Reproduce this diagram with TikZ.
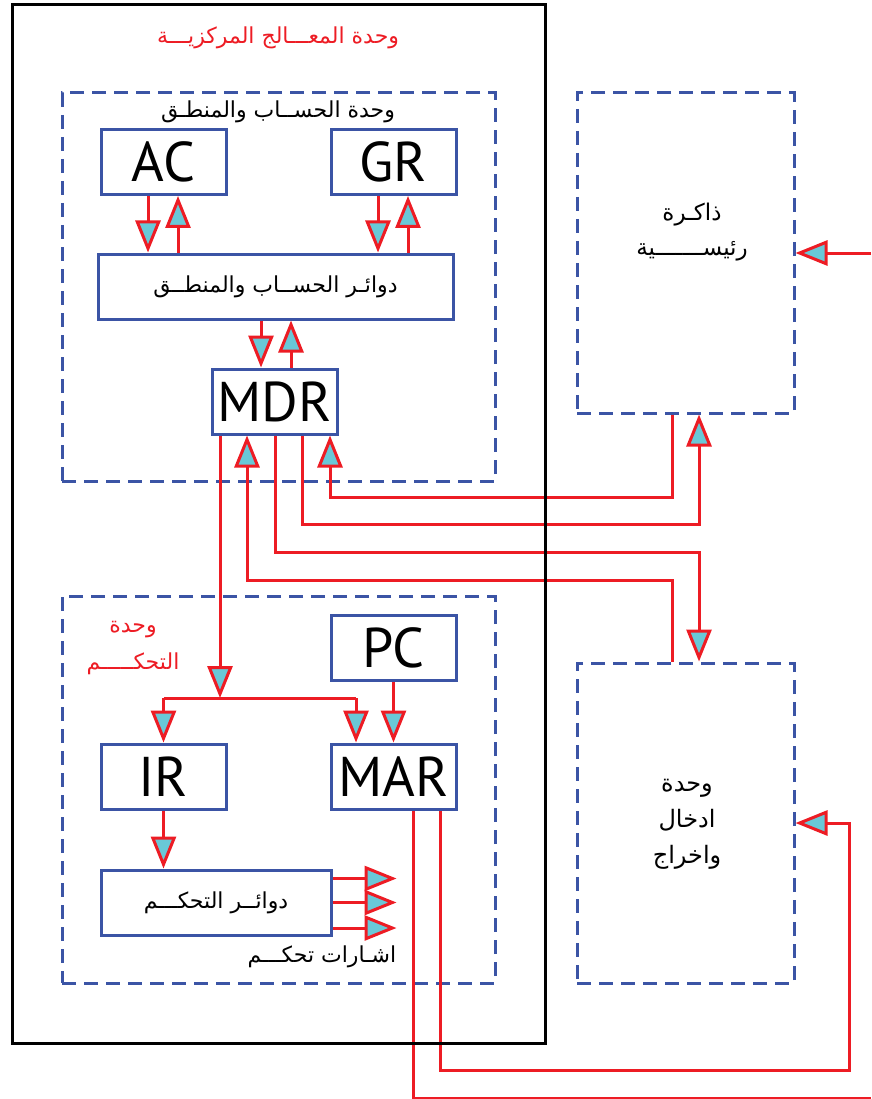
\documentclass[tikz,border=0pt]{standalone}
\usepackage{fontspec}
\usetikzlibrary{arrows.meta}
\TeXXeTstate=1
\newfontfamily\arabicfont[Script=Arabic]{DejaVu Sans}
\newfontfamily\latfont{PT Sans}
\definecolor{bl}{RGB}{59,84,165}
\definecolor{rd}{RGB}{237,28,36}
\definecolor{cy}{RGB}{105,200,215}
\tikzset{
  box/.style={draw=bl, line width=3pt, inner sep=0pt},
  reg/.style={box, minimum width=125pt, minimum height=65pt, font=\latfont\fontsize{56}{56}\selectfont, text depth=-4pt},
  dbox/.style={draw=bl, line width=3pt, dash pattern=on 14pt off 8pt, inner sep=0pt},
  rline/.style={draw=rd, line width=3pt},
  arr/.style={rline, -{Triangle[length=32pt,width=25pt,fill=cy]}},
  ar/.style={font=\arabicfont\fontsize{22}{35}\selectfont, align=center, inner sep=0pt},
}
\begin{document}
\begin{tikzpicture}[x=1pt,y=-1pt]
\useasboundingbox (0,0) rectangle (871,1099);
% dashed units
\node[dbox, minimum width=433pt, minimum height=388pt] (aluunit) at (278.5,287) {};
\node[dbox, minimum width=433pt, minimum height=387pt] (ctrlunit) at (278.5,789.5) {};
\node[dbox, minimum width=217pt, minimum height=320pt] (mem) at (685.5,253) {};
\node[dbox, minimum width=217pt, minimum height=320pt] (io) at (685.5,823) {};
% labels
\node[ar, text=rd, font=\arabicfont\fontsize{22}{22}\selectfont] (title) at (278,38) {\beginR وحدة المعـــالج المركزيـــة\endR};
\node[ar] (alulbl) at (278,112) {\beginR وحدة الحســاب والمنطـق\endR};
\node[ar, font=\arabicfont\fontsize{23}{35}\selectfont] (memlbl) at (692,232) {\beginR ذاكـرة\endR\\\beginR رئيســـــــية\endR};
\node[ar, font=\arabicfont\fontsize{24}{36}\selectfont] (iolbl) at (687,824) {\beginR وحدة\endR\\\beginR ادخال\endR\\\beginR واخراج\endR};
\node[ar, text=rd, font=\arabicfont\fontsize{22}{37}\selectfont] (ctrllbl) at (133,648) {\beginR وحدة\endR\\\beginR التحكـــــم\endR};
\node[ar] (siglbl) at (322,957) {\beginR اشـارات تحكـــم\endR};
% registers
\node[reg] (ac) at (163.5,162) {AC};
\node[reg] (gr) at (393.5,162) {GR};
\node[box, minimum width=355pt, minimum height=65pt, font=\arabicfont\fontsize{22}{22}\selectfont] (alu) at (275.5,286.5) {\beginR دوائـر الحســاب والمنطــق\endR};
\node[reg] (mdr) at (274.5,401.5) {MDR};
\node[reg] (pc) at (393.5,647.5) {PC};
\node[reg] (ir) at (163.5,776.5) {IR};
\node[reg] (mar) at (393.5,776.5) {MAR};
\node[box, minimum width=230pt, minimum height=65pt, font=\arabicfont\fontsize{22}{22}\selectfont] (cc) at (216,902.5) {\beginR دوائــر التحكـــم\endR};
% helper coordinates
\coordinate (yA) at (0,497);
\coordinate (yB) at (0,524);
\coordinate (yC) at (0,552);
\coordinate (yD) at (0,580);
\coordinate (yE) at (0,698);
\coordinate (d1) at ([xshift=-54.5]mdr.south);
\coordinate (d2) at ([xshift=-27.5]mdr.south);
\coordinate (d3) at ([xshift=0.5]mdr.south);
\coordinate (d4) at ([xshift=27.5]mdr.south);
\coordinate (d5) at ([xshift=55.5]mdr.south);
\coordinate (mL) at ([xshift=-13.5]mem.south);
\coordinate (mR) at ([xshift=13.5]mem.south);
\coordinate (iL) at ([xshift=-13.5]io.north);
\coordinate (iR) at ([xshift=13.5]io.north);
\coordinate (acL) at ([xshift=-15.5]ac.south);
\coordinate (acR) at ([xshift=14.5]ac.south);
\coordinate (grL) at ([xshift=-15.5]gr.south);
\coordinate (grR) at ([xshift=14.5]gr.south);
\coordinate (mdL) at ([xshift=-13.5]mdr.north);
\coordinate (mdR) at ([xshift=16.5]mdr.north);
\coordinate (marL) at ([xshift=-37.5]mar.north);
\coordinate (mb1) at ([xshift=19.5]mar.south);
\coordinate (mb2) at ([xshift=46.5]mar.south);
\coordinate (edge1) at (871,253);
\coordinate (edge2) at (871,1098);
\coordinate (c849) at (849,1070);
% ALU arrows
\draw[arr] (acL) -- (acL |- alu.north);
\draw[arr] (acR |- alu.north) -- (acR);
\draw[arr] (grL) -- (grL |- alu.north);
\draw[arr] (grR |- alu.north) -- (grR);
\draw[arr] (mdL |- alu.south) -- (mdL);
\draw[arr] (mdR) -- (mdR |- alu.south);
% MDR bus
\draw[arr] (mL) -- (mL |- yA) -- (d5 |- yA) -- (d5);
\draw[arr] (d4) -- (d4 |- yB) -- (mR |- yB) -- (mR);
\draw[arr] (d3) -- (d3 |- yC) -- (iR |- yC) -- (iR);
\draw[arr] (iL) -- (iL |- yD) -- (d2 |- yD) -- (d2);
\draw[arr] (d1) -- (d1 |- yE);
\draw[rline] (ir.north |- yE) -- (marL |- yE);
\draw[arr] (ir.north |- yE) -- (ir.north);
\draw[arr] (marL |- yE) -- (marL);
\draw[arr] (pc.south) -- (mar.north);
\draw[arr] (ir.south) -- (ir.south |- cc.north);
% control signals
\draw[arr] ([yshift=-25.5]cc.east) -- ++(64,0);
\draw[arr] (cc.east) -- ++(64,0);
\draw[arr] ([yshift=24]cc.east) -- ++(64,0);
% MAR outputs
\draw[rline] (mb1) |- (edge2);
\draw[arr] (mb2) |- (c849) |- (io.east);
% memory input
\draw[arr] (edge1) -- (mem.east);
% CPU outline
\draw[line width=3pt] (12,5) rectangle (545,1043);
\end{tikzpicture}
\end{document}
